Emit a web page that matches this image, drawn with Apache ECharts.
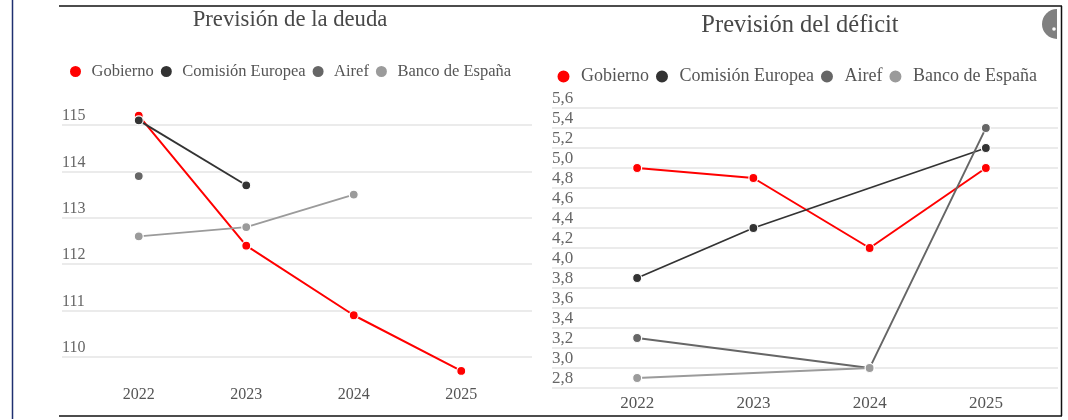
<!DOCTYPE html>
<html>
<head>
<meta charset="utf-8">
<script src="https://cdn.jsdelivr.net/npm/echarts@6/dist/echarts.min.js"></script>
<style>
  html, body { margin: 0; padding: 0; background: #ffffff; }
  #chart { width: 1068px; height: 420px; }
</style>
</head>
<body>
<div id="chart"></div>
<script>
// ---- data ----
const categories = ['2022', '2023', '2024', '2025'];
const seriesNames = ['Gobierno', 'Comisión Europea', 'Airef', 'Banco de España'];

const deudaGobierno = [115.2, 112.4, 110.9, 109.7];
const deudaComision = [115.1, 113.7, null, null];
const deudaAiref    = [113.9, null, null, null];
const deudaBanco    = [112.6, 112.8, 113.5, null];

const deficitGobierno = [5.0, 4.9, 4.2, 5.0];
const deficitComision = [3.9, 4.4, null, 5.2];
const deficitAiref    = [3.3, null, 3.0, 5.4];
const deficitBanco    = [2.9, null, 3.0, null];

const deudaTicks   = [110, 111, 112, 113, 114, 115];
const deficitTicks = [2.8, 3.0, 3.2, 3.4, 3.6, 3.8, 4.0, 4.2, 4.4, 4.6, 4.8, 5.0, 5.2, 5.4, 5.6];

// ---- styles ----
const colors = ['#ff0000', '#333333', '#666666', '#9b9b9b'];
const FONT = '"Liberation Serif", "DejaVu Serif", serif';
const textGray = '#555555';

const chart = echarts.init(document.getElementById('chart'), null, { renderer: 'canvas' });

function fmtComma(v) { return v.toFixed(1).replace('.', ','); }

function lineSeries(name, data, xi, yi, idx) {
  return {
    type: 'line', name: name, data: data,
    xAxisIndex: xi, yAxisIndex: yi,
    connectNulls: true,
    symbol: 'circle', symbolSize: 9,
    lineStyle: { color: colors[idx], width: idx === 0 ? 2 : 1.8 },
    itemStyle: { color: colors[idx], borderColor: '#ffffff', borderWidth: 1.2 },
    emphasis: { disabled: true },
    z: 3 + idx
  };
}

const deudaData = [deudaGobierno, deudaComision, deudaAiref, deudaBanco];
const deficitData = [deficitGobierno, deficitComision, deficitAiref, deficitBanco];

const option = {
  animation: false,
  color: colors,
  title: [
    { text: 'Previsión de la deuda', left: 285, top: 4, textAlign: 'center',
      textStyle: { fontFamily: FONT, fontSize: 22.7, fontWeight: 'normal', color: '#484848' } },
    { text: 'Previsión del déficit', left: 795, top: 8, textAlign: 'center',
      textStyle: { fontFamily: FONT, fontSize: 24.5, fontWeight: 'normal', color: '#484848' } }
  ],
  legend: [
    { data: seriesNames, icon: 'circle', itemWidth: 22, itemHeight: 13, itemGap: 5,
      padding: 0, selectedMode: false, left: 68, top: 63,
      textStyle: { fontFamily: FONT, fontSize: 16.5, color: textGray } },
    { data: seriesNames, icon: 'circle', itemWidth: 25, itemHeight: 14, itemGap: 5,
      padding: 0, selectedMode: false, left: 555.5, top: 67.5,
      textStyle: { fontFamily: FONT, fontSize: 18, color: textGray } }
  ],
  grid: [
    // 0: deuda background (gridlines + y labels)
    { left: 62, width: 470, top: 125, height: 232 },
    // 1: deuda data
    { left: 85, width: 430, top: 101.8, height: 278.4 },
    // 2: déficit background
    { left: 552, width: 506, top: 108, height: 280 },
    // 3: déficit data
    { left: 579, width: 465, top: 108, height: 280 }
  ],
  xAxis: [
    { gridIndex: 0, type: 'category', data: categories, show: false },
    { gridIndex: 1, type: 'category', data: categories, boundaryGap: true,
      axisLine: { show: false }, axisTick: { show: false }, splitLine: { show: false },
      axisLabel: { margin: 7, fontFamily: FONT, fontSize: 16, color: textGray } },
    { gridIndex: 2, type: 'category', data: categories, show: false },
    { gridIndex: 3, type: 'category', data: categories, boundaryGap: true,
      axisLine: { show: false }, axisTick: { show: false }, splitLine: { show: false },
      axisLabel: { margin: 7, fontFamily: FONT, fontSize: 17, color: textGray } }
  ],
  yAxis: [
    { gridIndex: 0, type: 'value',
      min: deudaTicks[0], max: deudaTicks[deudaTicks.length - 1], interval: 1,
      axisLine: { show: false }, axisTick: { show: false },
      splitLine: { show: true, lineStyle: { color: '#e4e4e4', width: 1.5 } },
      axisLabel: { inside: true, margin: 0, align: 'left', verticalAlign: 'bottom',
        padding: [0, 0, 1, 0],
        fontFamily: FONT, fontSize: 16, color: '#666666' } },
    { gridIndex: 1, type: 'value', min: 109.5, max: 115.5, show: false, splitLine: { show: false } },
    { gridIndex: 2, type: 'value',
      min: deficitTicks[0], max: deficitTicks[deficitTicks.length - 1], interval: 0.2,
      axisLine: { show: false }, axisTick: { show: false },
      splitLine: { show: true, lineStyle: { color: '#e4e4e4', width: 1.5 } },
      axisLabel: { inside: true, margin: 0, align: 'left', verticalAlign: 'bottom',
        padding: [0, 0, 1, 0],
        fontFamily: FONT, fontSize: 17, color: '#666666',
        formatter: function (v) { return fmtComma(v); } } },
    { gridIndex: 3, type: 'value',
      min: deficitTicks[0], max: deficitTicks[deficitTicks.length - 1],
      show: false, splitLine: { show: false } }
  ],
  series: [].concat(
    seriesNames.map(function (n, i) { return lineSeries(n, deudaData[i], 1, 1, i); }),
    seriesNames.map(function (n, i) { return lineSeries(n, deficitData[i], 3, 3, i); })
  ),
  graphic: [
    { type: 'line', shape: { x1: 12.5, y1: 0, x2: 12.5, y2: 419 }, style: { stroke: '#1f3070', lineWidth: 1.5 } },
    { type: 'line', shape: { x1: 59, y1: 6, x2: 1062, y2: 6 }, style: { stroke: '#111111', lineWidth: 1.5 } },
    { type: 'line', shape: { x1: 59, y1: 416, x2: 1062, y2: 416 }, style: { stroke: '#111111', lineWidth: 1.5 } },
    { type: 'line', shape: { x1: 1061.5, y1: 6, x2: 1061.5, y2: 416 }, style: { stroke: '#111111', lineWidth: 1.5 } },
    { type: 'sector', shape: { cx: 1057, cy: 24, r: 15, r0: 0, startAngle: Math.PI / 2, endAngle: Math.PI * 1.5 },
      style: { fill: '#808080' } },
    { type: 'circle', shape: { cx: 1054, cy: 29, r: 1.8 }, style: { fill: '#ffffff' } }
  ]
};

chart.setOption(option);
</script>
</body>
</html>
